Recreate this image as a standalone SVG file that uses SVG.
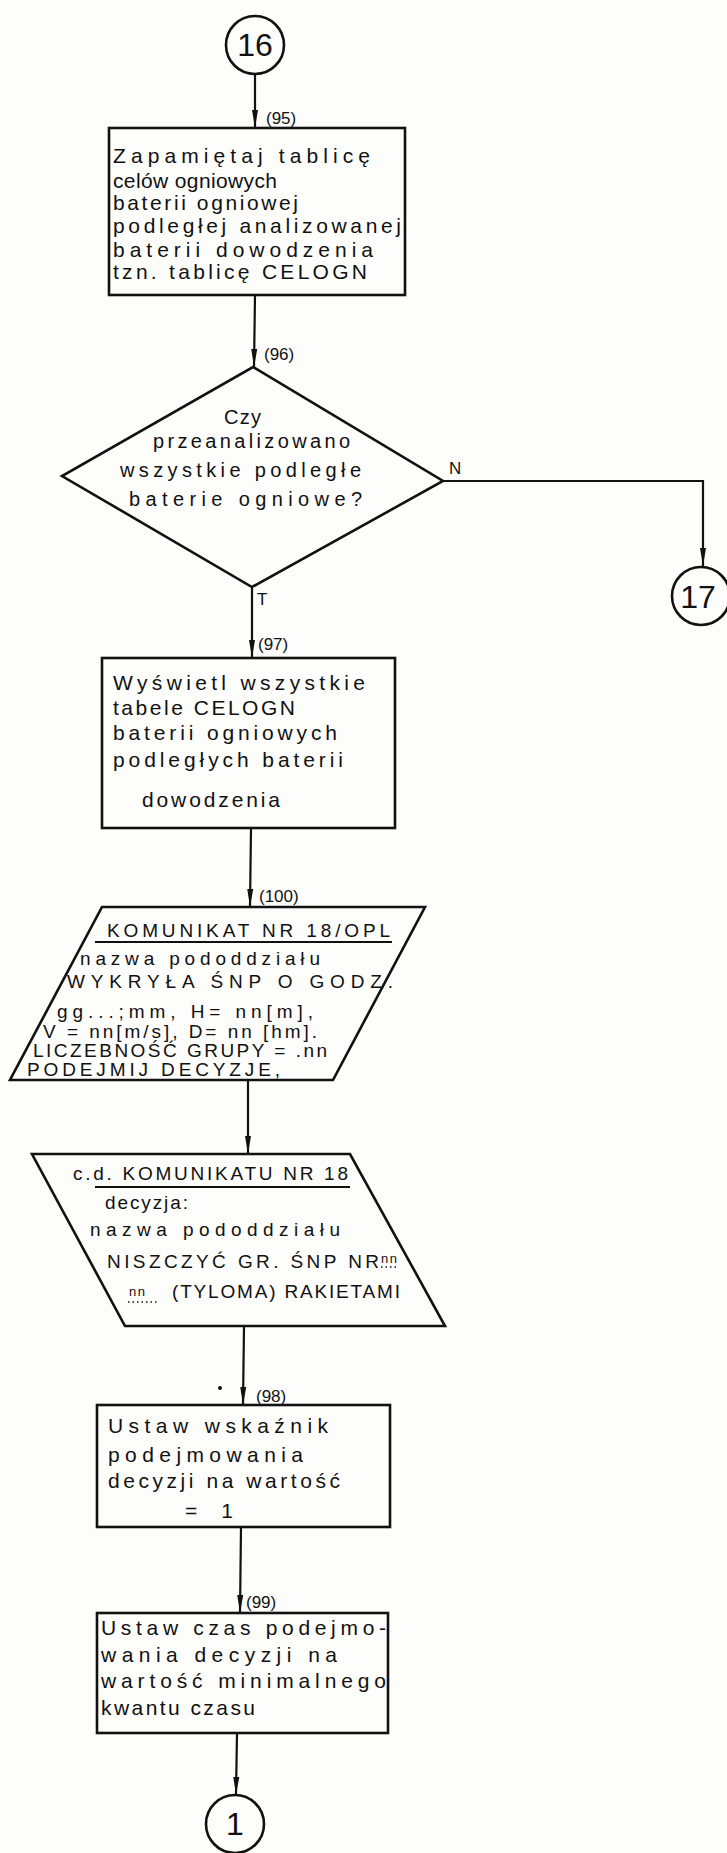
<svg xmlns="http://www.w3.org/2000/svg" width="727" height="1853" viewBox="0 0 727 1853">
<style>
.bg{fill:#fdfdfb}
.shape{fill:none;stroke:#111;stroke-width:2.6;stroke-linejoin:miter}
.ln{fill:none;stroke:#111;stroke-width:2.2}
.ul{fill:none;stroke:#111;stroke-width:2}
.dots{fill:none;stroke:#111;stroke-width:1.6;stroke-dasharray:1.5 3}
text{font-family:"Liberation Sans",Arial,sans-serif;fill:#111}
.t{font-size:21px}
.p{font-size:19px}
.d{font-size:20px}
.lbl{font-size:17px}
.num{font-size:32px;text-anchor:middle}
.sm{font-size:13px}
</style>
<defs>
<marker id="arr" markerUnits="userSpaceOnUse" viewBox="0 0 18 8" refX="18" refY="4" markerWidth="18" markerHeight="8" orient="auto">
<path d="M0,1 L18,4 L0,7 Z" fill="#111"/>
</marker>
</defs>
<rect class="bg" x="0" y="0" width="727" height="1853"/>

<g id="connectors">
<line class="ln" x1="255" y1="75" x2="255" y2="128" marker-end="url(#arr)"/>
<line class="ln" x1="255" y1="295" x2="254" y2="367" marker-end="url(#arr)"/>
<polyline class="ln" points="443,481 703,481 703,566" marker-end="url(#arr)"/>
<line class="ln" x1="252" y1="587" x2="252" y2="658" marker-end="url(#arr)"/>
<line class="ln" x1="251" y1="828" x2="250" y2="907" marker-end="url(#arr)"/>
<line class="ln" x1="248" y1="1080" x2="248" y2="1154" marker-end="url(#arr)"/>
<line class="ln" x1="244" y1="1326" x2="243" y2="1405" marker-end="url(#arr)"/>
<line class="ln" x1="241" y1="1527" x2="240" y2="1613" marker-end="url(#arr)"/>
<line class="ln" x1="237" y1="1733" x2="236" y2="1795" marker-end="url(#arr)"/>
<text class="lbl" x="266" y="124">(95)</text>
<text class="lbl" x="264" y="360">(96)</text>
<text class="lbl" x="449" y="474" font-size="15">N</text>
<text class="lbl" x="257" y="605" font-size="15">T</text>
<text class="lbl" x="258" y="650">(97)</text>
<text class="lbl" x="259" y="902">(100)</text>
<text class="lbl" x="256" y="1402">(98)</text>
<text class="lbl" x="246" y="1608">(99)</text>
<circle cx="220" cy="1388" r="2" fill="#111"/>
</g>

<g id="c16">
<circle class="shape" cx="255" cy="45" r="29"/>
<text class="num" x="255" y="56">16</text>
</g>

<g id="box95">
<rect class="shape" x="109" y="128" width="296" height="167"/>
<text class="t" x="113" y="163" textLength="257" lengthAdjust="spacing">Zapamiętaj tablicę</text>
<text class="t" x="113" y="188" textLength="164" lengthAdjust="spacing">celów ogniowych</text>
<text class="t" x="113" y="210" textLength="185" lengthAdjust="spacing">baterii ogniowej</text>
<text class="t" x="113" y="233" textLength="288" lengthAdjust="spacing">podległej analizowanej</text>
<text class="t" x="113" y="257" textLength="260" lengthAdjust="spacing">baterii dowodzenia</text>
<text class="t" x="113" y="279" textLength="254" lengthAdjust="spacing">tzn. tablicę CELOGN</text>
</g>

<g id="dec96">
<polygon class="shape" points="253,367 443,481 252,587 62,476"/>
<text class="d" x="224" y="424" textLength="37" lengthAdjust="spacing">Czy</text>
<text class="d" x="153" y="448" textLength="197" lengthAdjust="spacing">przeanalizowano</text>
<text class="d" x="120" y="477" textLength="241" lengthAdjust="spacing">wszystkie podległe</text>
<text class="d" x="129" y="506" textLength="233" lengthAdjust="spacing">baterie ogniowe?</text>
</g>

<g id="c17">
<circle class="shape" cx="701" cy="596" r="29"/>
<text class="num" x="698" y="608">17</text>
</g>

<g id="box97">
<rect class="shape" x="102" y="658" width="293" height="170"/>
<text class="t" x="113" y="690" textLength="252" lengthAdjust="spacing">Wyświetl wszystkie</text>
<text class="t" x="113" y="715" textLength="182" lengthAdjust="spacing">tabele CELOGN</text>
<text class="t" x="113" y="740" textLength="224" lengthAdjust="spacing">baterii ogniowych</text>
<text class="t" x="113" y="767" textLength="230" lengthAdjust="spacing">podległych baterii</text>
<text class="t" x="142" y="807" textLength="138" lengthAdjust="spacing">dowodzenia</text>
</g>

<g id="msg100">
<polygon class="shape" points="102,907 425,907 333,1080 10,1080"/>
<text class="p" x="107" y="937" textLength="283" lengthAdjust="spacing">KOMUNIKAT NR 18/OPL</text>
<line class="ul" x1="95" y1="942" x2="392" y2="942"/>
<text class="p" x="80" y="965" textLength="240" lengthAdjust="spacing">nazwa pododdziału</text>
<text class="p" x="67" y="988" textLength="326" lengthAdjust="spacing">WYKRYŁA ŚNP O GODZ.</text>
<text class="p" x="57" y="1018" textLength="256" lengthAdjust="spacing">gg...;mm, H= nn[m],</text>
<text class="p" x="43" y="1038" textLength="274" lengthAdjust="spacing">V = nn[m/s], D= nn [hm].</text>
<text class="p" x="33" y="1057" textLength="294" lengthAdjust="spacing">LICZEBNOŚĆ GRUPY = .nn</text>
<text class="p" x="27" y="1076" textLength="253" lengthAdjust="spacing">PODEJMIJ DECYZJE,</text>
</g>

<g id="msg18cd">
<polygon class="shape" points="32,1154 350,1154 445,1326 125,1326"/>
<text class="p" x="73" y="1180" textLength="275" lengthAdjust="spacing">c.d. KOMUNIKATU NR 18</text>
<line class="ul" x1="95" y1="1187" x2="350" y2="1187"/>
<text class="p" x="105" y="1209" textLength="83" lengthAdjust="spacing">decyzja:</text>
<text class="p" x="90" y="1236" textLength="250" lengthAdjust="spacing">nazwa pododdziału</text>
<text class="p" x="107" y="1268" textLength="272" lengthAdjust="spacing">NISZCZYĆ GR. ŚNP NR</text>
<text class="sm" x="381" y="1263" textLength="16" lengthAdjust="spacing">nn</text>
<line class="dots" x1="381" y1="1267" x2="398" y2="1267"/>
<text class="sm" x="129" y="1296" textLength="16" lengthAdjust="spacing">nn</text>
<line class="dots" x1="128" y1="1302" x2="157" y2="1302"/>
<text class="p" x="172" y="1298" textLength="228" lengthAdjust="spacing">(TYLOMA) RAKIETAMI</text>
</g>

<g id="box98">
<rect class="shape" x="97" y="1405" width="293" height="122"/>
<text class="t" x="108" y="1433" textLength="220" lengthAdjust="spacing">Ustaw wskaźnik</text>
<text class="t" x="108" y="1462" textLength="195" lengthAdjust="spacing">podejmowania</text>
<text class="t" x="108" y="1488" textLength="232" lengthAdjust="spacing">decyzji na wartość</text>
<text class="t" x="185" y="1518" textLength="48" lengthAdjust="spacing">= 1</text>
</g>

<g id="box99">
<rect class="shape" x="97" y="1613" width="291" height="120"/>
<text class="t" x="101" y="1635" textLength="285" lengthAdjust="spacing">Ustaw czas podejmo-</text>
<text class="t" x="101" y="1662" textLength="236" lengthAdjust="spacing">wania decyzji na</text>
<text class="t" x="101" y="1688" textLength="285" lengthAdjust="spacing">wartość minimalnego</text>
<text class="t" x="101" y="1715" textLength="154" lengthAdjust="spacing">kwantu czasu</text>
</g>

<g id="c1">
<circle class="shape" cx="235" cy="1824" r="29"/>
<text class="num" x="235" y="1835">1</text>
</g>
</svg>
